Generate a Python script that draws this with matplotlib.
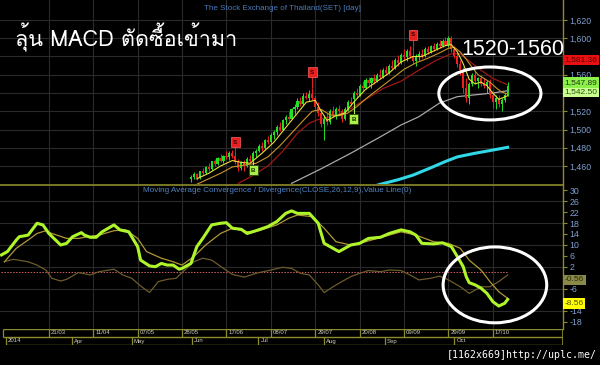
import matplotlib
matplotlib.use('Agg')
import matplotlib.pyplot as plt
from matplotlib.patches import Ellipse
from matplotlib.transforms import blended_transform_factory as btf
from matplotlib import font_manager
from matplotlib.ft2font import FT2Font

# ---------------- data ----------------
# trading-day index of the first visible candle is 64
cndl_idx = list(range(64, 172))
cndl_open = [1446,1448,1451,1447,1454,1452,1459,1457,1465,1462,1469,1466,1471,1470,1474,1471,1464,1458,1464,1460,
             1468,1466,1474,1477,1482,1480,1488,1486,1494,1497,1503,1500,1510,1514,1512,1522,1525,1531,1528,1537,
             1535,1539,1534,1525,1518,1506,1512,1508,1520,1516,1523,1520,1512,1523,1530,1533,1540,1538,1548,1545,
             1554,1551,1556,1553,1560,1558,1565,1562,1570,1567,1576,1573,1582,1579,1586,1581,1575,1580,1583,1580,
             1588,1585,1591,1588,1594,1591,1597,1593,1600,1588,1581,1572,1565,1545,1535,1550,1560,1553,1556,1550,
             1548,1552,1538,1530,1534,1528,1532,1538]
cndl_high = [1450,1453,1452,1455,1458,1460,1463,1466,1468,1470,1473,1472,1476,1477,1478,1477,1468,1466,1467,1470,
             1472,1476,1479,1484,1486,1490,1493,1496,1500,1505,1508,1512,1516,1520,1524,1528,1534,1536,1540,1541,
             1543,1545,1537,1530,1522,1516,1518,1522,1526,1525,1527,1522,1525,1532,1536,1542,1546,1550,1553,1556,
             1558,1558,1561,1562,1566,1567,1570,1572,1576,1578,1582,1584,1588,1588,1591,1590,1583,1586,1588,1590,
             1592,1593,1595,1596,1598,1599,1601,1603,1602,1592,1585,1576,1568,1556,1552,1562,1565,1558,1560,1556,
             1554,1555,1542,1538,1538,1535,1540,1552]
cndl_low = [1443,1446,1445,1446,1450,1451,1455,1456,1460,1461,1464,1463,1468,1467,1469,1462,1455,1456,1455,1459,
            1464,1465,1470,1475,1477,1479,1484,1485,1490,1494,1498,1499,1506,1509,1511,1517,1523,1526,1527,1533,
            1531,1532,1522,1515,1503,1488,1505,1506,1514,1512,1518,1508,1510,1520,1526,1532,1536,1537,1543,1544,
            1548,1546,1550,1552,1555,1556,1560,1561,1565,1566,1570,1572,1576,1575,1578,1572,1570,1576,1578,1579,
            1583,1584,1586,1587,1589,1590,1591,1590,1585,1578,1568,1560,1540,1530,1528,1548,1550,1545,1548,1545,
            1540,1535,1524,1522,1525,1520,1530,1537]
cndl_close = [1448,1451,1447,1454,1452,1459,1457,1465,1462,1469,1466,1471,1470,1474,1471,1464,1458,1464,1460,1468,
              1466,1474,1477,1482,1480,1488,1486,1494,1497,1503,1500,1510,1514,1512,1522,1525,1531,1528,1537,1535,
              1539,1534,1525,1518,1506,1512,1508,1520,1516,1523,1520,1512,1523,1530,1528,1540,1538,1548,1545,1554,
              1551,1556,1553,1560,1558,1565,1562,1570,1567,1576,1573,1582,1579,1586,1581,1575,1580,1583,1580,1588,
              1585,1591,1588,1594,1591,1597,1593,1600,1588,1581,1572,1565,1545,1535,1550,1560,1553,1556,1550,1548,
              1552,1538,1530,1534,1528,1532,1538,1547.89]

ma_fast_x = [66,70,74,78,81,84,88,92,96,100,103,106,108,110,113,116,119,123,127,131,135,139,142,146,150,152,154,156,158,160,162,164,166,168,171]
ma_fast_v = [1446,1452,1460,1466,1464,1463,1474,1486,1502,1518,1530,1532,1520,1510,1515,1518,1530,1544,1553,1562,1574,1580,1580,1586,1592,1593,1585,1572,1555,1550,1552,1548,1540,1533,1537]
ma_mid_x = [66,70,74,78,82,86,90,94,98,102,105,108,111,114,117,120,124,128,132,136,140,144,148,151,153,155,157,159,161,163,165,167,169,171]
ma_mid_v = [1440,1446,1452,1459,1461,1463,1470,1482,1496,1510,1520,1522,1516,1515,1518,1525,1536,1546,1556,1566,1573,1578,1584,1589,1590,1585,1577,1568,1560,1556,1552,1546,1541,1539]
ma_red_x = [80,84,90,95,100,104,107,111,116,120,124,129,135,141,147,152,155,158,162,166,171]
ma_red_v = [1441,1448,1460,1476,1496,1507,1511,1514,1519,1527,1535,1545,1553,1565,1576,1583,1583,1575,1565,1556,1549]
ma_gray_x = [98,108,118,128,135,141,148,154,160,166,171]
ma_gray_v = [1441,1457,1474,1492,1505,1514,1529,1536,1538,1540,1542.5]
ma_cyan_x = [126,128,134,139,145,150,154,160,166,171]
ma_cyan_v = [1438,1440,1445,1450,1458,1465,1470,1474,1477.5,1480.5]

macd_x = [0,2,5,6,9,12,14,16,20,22,24,27,28,30,32,34,38,40,43,46,47,50,52,54,56,58,60,61,64,66,68,71,74,76,78,81,83,86,90,93,96,98,100,
          104,107,109,111,114,118,121,124,128,131,135,138,140,142,146,149,152,154,156,157,158,160,162,164,166,168,170,171]
macd_v = [6.4,7.6,11.8,13,13.6,17.9,17.3,14.2,10,10.6,13,14.5,13.6,12.8,12.8,14.8,17.3,15.5,14.8,9.4,4.5,2.4,2.1,3.3,2.7,2.7,1.2,1.5,3.3,9.4,12.4,
          17.3,17.9,18.1,16.1,15.7,14.2,15.2,16.7,18.5,21.5,22.4,21.5,21.5,17.9,10.6,9.4,7.6,10,10.6,12.4,12.8,14.2,15.5,14.8,13.6,10.6,10.4,10.8,
          9.4,5.8,2.1,-1.5,-3.7,-4.5,-5.7,-7.6,-10.6,-12.2,-11.2,-9.8]
sig_x = [1,5,9,12,15,17,22,26,29,33,38,42,46,49,54,58,61,65,69,74,78,83,87,93,97,100,105,109,113,118,123,129,135,140,146,151,155,158,162,165,168,171]
sig_v = [3.9,8.8,11.8,14.2,15.2,14.2,12.4,12.4,13,13.6,15.2,15.5,12.4,7.6,5.2,3.9,2.7,5.8,10,14.2,16.1,14.8,15.2,17.3,19.7,20.9,20.3,16.1,11.2,10,
         11.2,13,14.8,13.6,11.2,10.6,8.8,4.5,0.9,-3.3,-7,-9.4]
diff_x = [1,4,9,12,15,17,20,22,26,30,33,38,41,44,47,50,53,56,59,61,65,68,71,75,78,82,86,91,95,98,101,104,107,109,112,115,118,121,124,128,131,
          135,138,141,145,148,151,155,158,162,165,168,171]
diff_v = [3.9,4.8,3.9,2.7,0.9,-2.1,-3.1,-2.5,0,-0.9,0.3,1.2,-0.9,-2.1,-4.9,-7.3,-3.3,-2.5,-2.1,0,3.9,5.2,4.5,1.5,-0.7,-1.7,-0.3,0.9,1.9,1.5,-0.3,
          -0.9,-4.5,-7.3,-5.2,-3.3,-1.5,-0.3,0.7,0.3,0.9,0.7,-0.9,-2.7,-2.1,-1.3,-2.7,-5.2,-7.6,-5.2,-5.2,-3.3,-0.9]

sell_idx = [79, 105, 139]
sell_y = [1486.3, 1563.0, 1603.6]
buy_idx = [85, 119]
buy_y = [1455.6, 1511.5]

price_ticks = [1460, 1480, 1500, 1520, 1540, 1560, 1580, 1600, 1620]
price_hidden = [1540, 1580]          # labels covered by the value boxes
macd_ticks = [30, 26, 22, 18, 14, 10, 6, 2, -2, -6, -10, -14, -18]
macd_hidden = [-2, -10]
date_idx = [16, 31, 46, 61, 76, 91, 106, 121, 136, 151, 166]
date_lbl = ['21/03', '11/04', '07/05', '28/05', '17/06', '08/07', '29/07', '20/08', '09/09', '29/09', '17/10']
month_idx = [1.4, 23.7, 44.0, 64.3, 86.8, 109.0, 129.6, 153.0]
month_lbl = ['2014', 'Apr', 'May', 'Jun', 'Jul', 'Aug', 'Sep', 'Oct']

price_labels = [('1,542.50', 1541.1, '#c8ff90', '#305010'),
                ('1,547.89', 1551.5, '#8cf04a', '#1e3a10'),
                ('1,581.36', 1576.2, '#e81010', '#5a0000')]
macd_labels = [('-0.56', -2.7, '#8a8a48', '#2a2a10'),
               ('-8.56', -11.3, '#ffff00', '#505000')]

title = 'The Stock Exchange of Thailand(SET) [day]'
macd_title = 'Moving Average Convergence / Divergence(CLOSE,26,12,9),Value Line(0)'
thai_text = 'ลุ้น MACD ตัดซื้อเข้ามา'
range_text = '1520-1560'
watermark = '[1162x669]http://uplc.me/'

# ---------------- fonts ----------------
def font_with(ch):
    for f in font_manager.fontManager.ttflist:
        try:
            if ord(ch) in FT2Font(f.fname).get_charmap():
                return f.name
        except Exception:
            continue
    return None

thai_font = font_with('ล')
plt.rcParams['font.family'] = ['Liberation Sans', 'DejaVu Sans']

# ---------------- layout ----------------
W, H = 600, 365
fig = plt.figure(figsize=(W / 100, H / 100), dpi=100, facecolor='black')

def rect(x0, y0, x1, y1):
    return [x0 / W, 1 - y1 / H, (x1 - x0) / W, (y1 - y0) / H]

ax1 = fig.add_axes(rect(0, 0, 563, 184))
ax2 = fig.add_axes(rect(0, 185, 563, 329))
ax3 = fig.add_axes(rect(0, 329, 563, 345))
XL = (-0.5, 189.7)
OLIVE = '#8c8c2c'
GRID = '#2a2a2a'
TICKC = '#7f9fd0'

for ax in (ax1, ax2, ax3):
    ax.set_facecolor('black')
    ax.set_xlim(*XL)
    for s in ax.spines.values():
        s.set_visible(False)
    ax.set_xticks([])

ax1.set_ylim(1440.3, 1641.9)
ax2.set_ylim(-20.55, 31.82)
for ax, ticks, hidden, fmt in ((ax1, price_ticks, price_hidden, lambda v: f'{v:,}'),
                               (ax2, macd_ticks, macd_hidden, lambda v: str(v))):
    ax.yaxis.tick_right()
    ax.set_yticks(ticks)
    ax.set_yticklabels(['' if v in hidden else fmt(v) for v in ticks])
    ax.tick_params(axis='y', colors=OLIVE, labelcolor=TICKC, length=3, width=0.8, pad=1.5, labelsize=6.3)
    ax.spines['right'].set_visible(True)
    ax.spines['right'].set_color(OLIVE)
    ax.spines['right'].set_linewidth(1)
    for d in date_idx:
        ax.axvline(d, color=GRID, lw=0.8, zorder=0)
ax1.grid(axis='y', color=GRID, lw=0.8, zorder=0)
ax2.spines['top'].set_visible(True)
ax2.spines['top'].set_color(OLIVE)
ax2.spines['top'].set_linewidth(1.2)
for v in (26, 18, 10, 2, -6, -14):
    ax2.axhline(v, color=GRID, lw=0.8, zorder=0)

# moving averages
ax1.plot(ma_cyan_x, ma_cyan_v, color='#30d8e8', lw=2.2, zorder=2)
ax1.plot(ma_gray_x, ma_gray_v, color='#a8a8a8', lw=0.9, zorder=2)
ax1.plot(ma_red_x, ma_red_v, color='#a01818', lw=0.9, zorder=2)
ax1.plot(ma_mid_x, ma_mid_v, color='#c8962c', lw=0.8, zorder=4)
ax1.plot(ma_fast_x, ma_fast_v, color='#e8e040', lw=0.8, zorder=4)

# candles
for i, o, h, l, c in zip(cndl_idx, cndl_open, cndl_high, cndl_low, cndl_close):
    col = '#22e022' if c >= o else '#f02020'
    ax1.vlines(i, l, h, color=col, lw=0.7, zorder=3)
    ax1.bar(i, max(abs(c - o), 0.6), bottom=min(o, c), width=0.72, color=col, lw=0, zorder=3)

# buy / sell markers
for i, y in zip(sell_idx, sell_y):
    hi = cndl_high[cndl_idx.index(i)]
    ax1.vlines(i, hi, y, color='#e02020', lw=0.8, zorder=5)
    ax1.text(i, y, 'S', ha='center', va='center', fontsize=4.5, color='#3a0000', fontweight='bold', zorder=6,
             bbox=dict(boxstyle='square,pad=0.35', fc='#e82020', ec='#ff6060', lw=0.5))
for i, y in zip(buy_idx, buy_y):
    lo = cndl_low[cndl_idx.index(i)]
    ax1.vlines(i, y, lo, color='#a8f050', lw=0.8, zorder=5)
    ax1.text(i, y, 'B', ha='center', va='center', fontsize=4.5, color='#1a3000', fontweight='bold', zorder=6,
             bbox=dict(boxstyle='square,pad=0.35', fc='#a8f048', ec='#304010', lw=0.6))

# MACD panel
ax2.hlines(0, 0, 171, colors='#d06060', linestyles=(0, (1.5, 1.5)), lw=0.7, zorder=1)
ax2.plot(diff_x, diff_v, color='#6e5c2c', lw=0.9, zorder=2)
ax2.plot(sig_x, sig_v, color='#b09838', lw=0.9, zorder=3)
ax2.plot(macd_x, macd_v, color='#aef52a', lw=2.2, zorder=4)

# value labels on the right
for ax, labels in ((ax1, price_labels), (ax2, macd_labels)):
    tr = btf(ax.transAxes, ax.transData)
    for txt, y, fc, tc in labels:
        ax.text(1.003, y, txt, transform=tr, ha='left', va='center', fontsize=6.0, color=tc, clip_on=False,
                zorder=10, bbox=dict(boxstyle='square,pad=0.2', fc=fc, ec='none'))

# ellipses
ax1.add_patch(Ellipse((165.0, 1539.5), 34.5, 58, fill=False, ec='white', lw=2.2, zorder=8, clip_on=False))
ax2.add_patch(Ellipse((166.7, -4.5), 35.0, 27.6, fill=False, ec='white', lw=2.2, zorder=8, clip_on=False))

# date boxes
ax3.set_ylim(0, 2)
ax3.set_yticks([])
ax3.hlines([2, 1], XL[0] + 0.85, XL[1], color=OLIVE, lw=1)
ax3.hlines([0], month_idx[0], XL[1], color=OLIVE, lw=1)
ax3.vlines([XL[0] + 0.85] + date_idx, 1, 2, color=OLIVE, lw=0.9)
ax3.vlines(month_idx, 0, 1, color=OLIVE, lw=0.9)
ax3.vlines([XL[1] - 0.1], 0, 2, color=OLIVE, lw=1.2)
for d, t in zip(date_idx, date_lbl):
    ax3.text(d + 0.7, 1.5, t, fontsize=4.3, color='#cfcfbf', ha='left', va='center')
for d, t in zip(month_idx, month_lbl):
    ax3.text(d + 0.7, 0.5, t, fontsize=4.3, color='#cfcfbf', ha='left', va='center')

# titles and annotations
fig.text(282 / W, 1 - 8 / H, title, ha='center', va='center', fontsize=5.8, color='#4a7ab8')
fig.text(143 / W, 1 - 190 / H, macd_title, ha='left', va='center', fontsize=5.9, color='#4f82c4')
thai_fam = [thai_font, 'DejaVu Sans'] if thai_font else ['DejaVu Sans']
fig.text(15 / W, 1 - 47 / H, thai_text, ha='left', va='baseline', fontsize=15.5, color='white', family=thai_fam)
fig.text(461 / W, 1 - 55 / H, range_text, ha='left', va='baseline', fontsize=15.5, color='white',
         family=['Liberation Sans', 'DejaVu Sans'])
fig.text(597 / W, 1 - 358 / H, watermark, ha='right', va='baseline', fontsize=7.1, color='white', family='DejaVu Sans Mono')

fig.savefig('out.png', dpi=100, facecolor='black')
